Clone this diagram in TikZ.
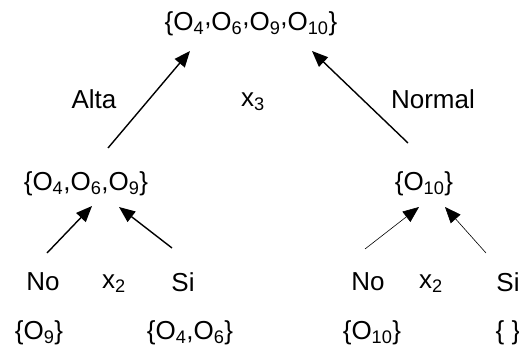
\documentclass[tikz,border=0pt]{standalone}
\usepackage{fontspec}
\setmainfont{Liberation Sans}
\usetikzlibrary{arrows.meta}
\newcommand{\sbs}[1]{\textsubscript{#1}}
\newcommand{\rc}{\raisebox{0.2em}{,}}
\begin{document}
\begin{tikzpicture}[x=1pt,y=-1pt,
  lbl/.style={inner sep=0pt,font=\fontsize{26}{30}\selectfont},
  arr/.style={line width=1.4pt,-{Triangle[length=16pt,width=13pt]}},
  thinarr/.style={line width=0.6pt,-{Triangle[length=16pt,width=13pt]}}]
\useasboundingbox (0,0) rectangle (519,350);
\node[lbl] (root) at (251,24) {\{O\sbs{4}\rc O\sbs{6}\rc O\sbs{9}\rc O\sbs{10}\}};
\node[lbl] (alta) at (94,99) {Alta};
\node[lbl] (x3) at (253,102) {x\sbs{3}};
\node[lbl] (normal) at (433,99) {Normal};
\node[lbl] (L) at (86,184) {\{O\sbs{4},O\sbs{6},O\sbs{9}\}};
\node[lbl] (R) at (424,184) {\{O\sbs{10}\}};
\node[lbl] (lno) at (43,282) {No};
\node[lbl] (lx2) at (114,284) {x\sbs{2}};
\node[lbl] (lsi) at (183,282) {Si};
\node[lbl] (rno) at (368,282) {No};
\node[lbl] (rx2) at (431,284) {x\sbs{2}};
\node[lbl] (rsi) at (508,282) {Si};
\node[lbl] (lnoset) at (39,333) {\{O\sbs{9}\}};
\node[lbl] (lsiset) at (190,333) {\{O\sbs{4},O\sbs{6}\}};
\node[lbl] (rnoset) at (372,333) {\{O\sbs{10}\}};
\node[lbl] (rsiset) at (508,333) {\{ \}};
\coordinate (a1) at (108,148);
\coordinate (a1t) at (190,51);
\coordinate (a2) at (408,143);
\coordinate (a2t) at (312,51);
\coordinate (b1) at (47,253);
\coordinate (b1t) at (92,206);
\coordinate (b2) at (172,248);
\coordinate (b2t) at (119,207);
\coordinate (c1) at (365,249);
\coordinate (c1t) at (419,207);
\coordinate (c2) at (486,253);
\coordinate (c2t) at (445,207);
\draw[arr] (a1) -- (a1t);
\draw[arr] (a2) -- (a2t);
\draw[arr] (b1) -- (b1t);
\draw[arr] (b2) -- (b2t);
\draw[thinarr] (c1) -- (c1t);
\draw[thinarr] (c2) -- (c2t);
\end{tikzpicture}
\end{document}
